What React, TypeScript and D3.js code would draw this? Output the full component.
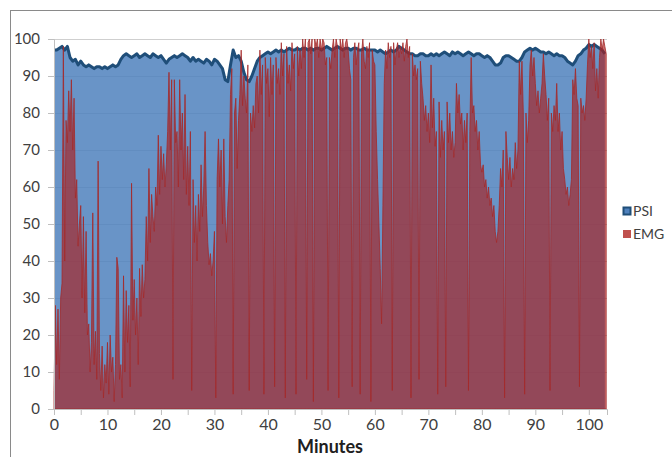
import React, { useEffect, useRef } from "react";
import * as d3 from "d3";

// minutes between samples
const EMG_STEP = 0.25;
const PSI_STEP = 0.5;

// EMG, one row per 5 minutes (20 samples each)
const emgValues = [
  5, 28, 12, 27, 8, 30, 34, 98, 40, 78, 72, 86, 75, 89, 70, 84, 57, 62, 44, 50,
  55, 30, 52, 26, 48, 20, 23, 10, 18, 53, 12, 21, 8, 67, 15, 5, 17, 3, 12, 7,
  18, 4, 20, 10, 14, 2, 12, 41, 38, 8, 12, 3, 36, 10, 32, 18, 28, 6, 61, 24,
  35, 20, 30, 12, 38, 25, 39, 30, 35, 52, 40, 65, 45, 58, 52, 48, 60, 55, 74, 58,
  71, 62, 69, 60, 66, 75, 91, 70, 89, 8, 89, 72, 75, 60, 89, 70, 80, 62, 85, 58,
  71, 55, 75, 5, 62, 45, 55, 40, 58, 48, 66, 52, 60, 75, 55, 45, 39, 42, 36, 40,
  48, 3, 62, 73, 60, 70, 50, 73, 52, 45, 55, 62, 85, 92, 4, 80, 84, 65, 78, 85,
  97, 82, 90, 84, 80, 93, 5, 80, 75, 82, 76, 88, 90, 80, 97, 85, 93, 4, 95, 88,
  92, 79, 95, 85, 93, 6, 95, 88, 92, 85, 99, 90, 96, 3, 98, 88, 93, 86, 99, 92,
  96, 4, 98, 90, 97, 92, 100, 95, 100, 8, 99, 100, 96, 100, 2, 100, 98, 100, 95, 100,
  97, 100, 99, 93, 95, 5, 95, 92, 97, 100, 95, 100, 98, 3, 100, 97, 100, 95, 99, 100,
  97, 92, 89, 6, 95, 99, 93, 97, 99, 4, 96, 100, 94, 92, 98, 95, 99, 2, 97, 94,
  93, 75, 62, 50, 38, 23, 55, 88, 97, 92, 99, 95, 98, 5, 99, 93, 97, 99, 95, 98,
  96, 99, 94, 98, 100, 95, 98, 3, 96, 90, 93, 89, 92, 8, 94, 88, 84, 78, 82, 75,
  80, 72, 93, 76, 84, 71, 75, 4, 83, 68, 78, 70, 75, 6, 83, 72, 80, 70, 75, 68,
  72, 88, 80, 85, 77, 80, 70, 78, 72, 80, 5, 75, 95, 80, 82, 75, 78, 70, 75, 66,
  64, 66, 60, 62, 57, 60, 55, 57, 52, 55, 48, 45, 48, 55, 65, 60, 70, 3, 75, 68,
  62, 68, 60, 65, 62, 72, 65, 70, 94, 85, 94, 80, 4, 80, 72, 78, 93, 97, 90, 95,
  88, 82, 86, 80, 84, 88, 96, 90, 85, 78, 84, 5, 80, 75, 82, 78, 88, 75, 80, 70,
  75, 65, 62, 58, 60, 55, 58, 62, 89, 85, 92, 84, 82, 6, 84, 80, 82, 78, 84, 93,
  100, 95, 98, 92, 99, 86, 92, 84, 95, 100, 97, 100, 98, 96,
];

// PSI, one row per 5 minutes (10 samples each)
const psiValues = [
  97, 97, 97.5, 98, 97, 98, 95, 94, 94.5, 93,
  94, 93, 92.5, 93, 92.5, 92, 92.5, 92.5, 92, 92.5,
  92, 92.5, 93, 92.5, 93, 94.5, 95.5, 96, 95.5, 95,
  95.5, 96, 95, 95.5, 96, 95.5, 95, 96, 95.5, 95,
  95.5, 94.5, 93.5, 94.5, 95, 95.5, 95, 95.5, 96, 95.5,
  95, 94, 95, 94, 94.5, 94, 93.5, 94.5, 94, 93,
  94.5, 94, 93, 92, 89, 88.5, 93, 97, 95, 95.5,
  94, 91, 89, 88.5, 90, 92, 94, 95, 95.5, 96,
  96.5, 96, 96.5, 97, 96.5, 97, 96.5, 97, 97.5, 97,
  97, 97.5, 97, 97.5, 97.5, 97, 97.5, 97, 97.5, 97.5,
  97, 97.5, 98, 97.5, 97, 97.5, 98, 97.5, 97, 97.5,
  97.5, 97, 97.5, 97.5, 97, 97, 97.5, 97, 97, 97,
  97, 96.5, 97, 96.5, 96, 96.5, 97, 96.5, 97, 98,
  97.5, 97, 96.5, 96, 96, 95.5, 95.5, 96, 96, 95.5,
  95.5, 96, 95.5, 96, 95.5, 96, 96.5, 96, 95.5, 96.5,
  96, 96.5, 96, 95.5, 96, 96.5, 96, 95.5, 96, 96,
  95.5, 95, 95.5, 95, 94, 93, 93, 93.5, 95, 95.5,
  95.5, 95, 94.5, 94, 94, 95, 96.5, 97, 97.5, 97,
  97.5, 97, 96.5, 96.5, 96, 96.5, 96, 95.5, 96, 95.5,
  95.5, 95, 94, 93.5, 93, 94, 95.5, 96, 97, 97.5,
  98.5, 98, 98.5, 98, 97.5, 97, 96,
];

const xTickLabels = [0, 10, 20, 30, 40, 50, 60, 70, 80, 90, 100];
const xTickMarks = [0, 5, 10, 15, 20, 25, 30, 35, 40, 45, 50, 55, 60, 65, 70, 75, 80, 85, 90, 95, 100];
const yTickLabels = [0, 10, 20, 30, 40, 50, 60, 70, 80, 90, 100];
const seriesNames = ["PSI", "EMG"];
const xTitle = "Minutes";

const FONT = "Lato, 'Open Sans', sans-serif";

const App = () => {
  const ref = useRef<SVGSVGElement>(null);

  useEffect(() => {
    const svg = d3.select(ref.current);
    svg.selectAll("*").remove();

    const plot = { left: 54, right: 607, top: 39, bottom: 409 };
    const x = d3.scaleLinear().domain([0, 103.4]).range([plot.left, plot.right]);
    const y = d3.scaleLinear().domain([0, 100]).range([plot.bottom, plot.top]);

    const emg = emgValues.map((v, i) => ({ t: i * EMG_STEP, v }));
    const psi = psiValues.map((v, i) => ({ t: i * PSI_STEP, v }));

    // chart border
    svg
      .append("rect")
      .attr("x", 10.5)
      .attr("y", 10.5)
      .attr("width", 700)
      .attr("height", 500)
      .attr("fill", "#fff")
      .attr("stroke", "#8a8a8a");

    // gridlines
    svg
      .append("g")
      .selectAll("line")
      .data(yTickLabels)
      .enter()
      .append("line")
      .attr("x1", plot.left)
      .attr("x2", plot.right)
      .attr("y1", (d) => y(d) + 0.5)
      .attr("y2", (d) => y(d) + 0.5)
      .attr("stroke", "#cfcfcf");

    const area = d3
      .area<{ t: number; v: number }>()
      .x((d) => x(d.t))
      .y0(y(0))
      .y1((d) => y(d.v));

    const line = d3
      .line<{ t: number; v: number }>()
      .x((d) => x(d.t))
      .y((d) => y(d.v));

    svg
      .append("path")
      .datum(psi)
      .attr("d", area)
      .attr("fill", "rgba(79,129,189,0.85)");

    svg
      .append("path")
      .datum(psi)
      .attr("d", line)
      .attr("fill", "none")
      .attr("stroke", "#1f4e79")
      .attr("stroke-width", 3)
      .attr("stroke-linejoin", "round");

    svg
      .append("path")
      .datum(emg)
      .attr("d", area)
      .attr("fill", "rgba(170,30,30,0.65)")
      .attr("stroke", "#a52a2a")
      .attr("stroke-width", 0.8);

    // y axis
    const yAxis = svg.append("g").attr("transform", `translate(${plot.left},0)`);
    yAxis
      .call(d3.axisLeft(y).tickValues(yTickLabels).tickSize(6).tickPadding(8))
      .call((g) => g.select(".domain").attr("stroke", "#bfbfbf"));
    yAxis.selectAll(".tick line").attr("stroke", "#bfbfbf");
    yAxis
      .selectAll(".tick text")
      .attr("fill", "#404040")
      .style("font-family", FONT)
      .style("font-size", "15px");

    // x axis
    const xAxis = svg.append("g").attr("transform", `translate(0,${plot.bottom})`);
    xAxis
      .call(
        d3
          .axisBottom(x)
          .tickValues(xTickMarks)
          .tickSize(6)
          .tickPadding(4)
          .tickFormat((d) => (xTickLabels.includes(+d) ? String(d) : ""))
      )
      .call((g) => g.select(".domain").attr("stroke", "#bfbfbf"));
    xAxis.selectAll(".tick line").attr("stroke", "#bfbfbf");
    xAxis
      .selectAll(".tick text")
      .attr("fill", "#404040")
      .style("font-family", FONT)
      .style("font-size", "16px");

    svg
      .append("text")
      .attr("x", 330)
      .attr("y", 453)
      .attr("text-anchor", "middle")
      .attr("fill", "#202020")
      .style("font-family", FONT)
      .style("font-size", "18px")
      .style("font-weight", "bold")
      .text(xTitle);

    // legend
    const legend = svg
      .append("g")
      .selectAll("g")
      .data(seriesNames)
      .enter()
      .append("g")
      .attr("transform", (d, i) => `translate(623,${207 + i * 23})`);

    legend
      .append("rect")
      .attr("x", 0.5)
      .attr("y", 0.5)
      .attr("width", 7)
      .attr("height", 7)
      .attr("fill", (d) => (d === "PSI" ? "#4f81bd" : "#c0504d"))
      .attr("stroke", (d) => (d === "PSI" ? "#1f4e79" : "#c0504d"))
      .attr("stroke-width", (d) => (d === "PSI" ? 2 : 1));

    legend
      .append("text")
      .attr("x", 10)
      .attr("y", 9)
      .attr("fill", "#404040")
      .style("font-family", FONT)
      .style("font-size", "14px")
      .text((d) => d);
  }, []);

  return (
    <svg
      ref={ref}
      width={672}
      height={457}
      style={{ position: "absolute", left: 0, top: 0, background: "#fff" }}
    />
  );
};

export default App;
